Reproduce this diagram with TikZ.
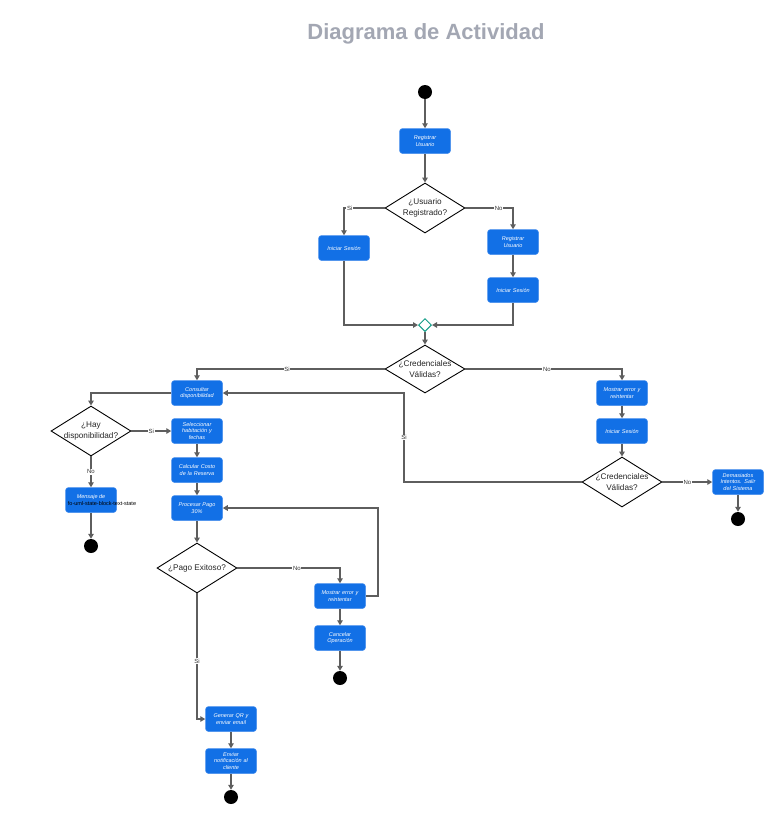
\documentclass[tikz,border=0pt]{standalone}
\usepackage{fontspec}
\setmainfont{Liberation Sans}
\usetikzlibrary{shapes.geometric,arrows.meta,calc}
\definecolor{boxblue}{HTML}{1270E6}
\definecolor{boxedge}{HTML}{4A90EE}
\definecolor{linegray}{HTML}{5E5E5E}
\definecolor{titlegray}{HTML}{A3A7B3}
\definecolor{mergegreen}{HTML}{119C86}
\tikzset{
  act/.style={rectangle, rounded corners=3pt, fill=boxblue, draw=boxedge, line width=0.5pt,
    minimum width=51pt, minimum height=25pt, text width=48pt, align=center,
    font=\fontsize{5.5}{6.6}\selectfont\itshape, text=white, inner sep=1pt},
  dec/.style={diamond, draw=black, line width=0.9pt, fill=white, minimum width=80pt,
    minimum height=50pt, inner sep=0pt},
  dtext/.style={align=center, font=\fontsize{8.2}{11}\selectfont, text=black!85},
  startdot/.style={circle, fill=black, minimum size=14pt, inner sep=0pt},
  mergenode/.style={diamond, draw=mergegreen, line width=1pt, fill=white, minimum width=13pt,
    minimum height=13pt, inner sep=0pt},
  flow/.style={draw=linegray, line width=1.3pt, -{Triangle[length=5pt,width=5.5pt]}},
  lbl/.style={font=\fontsize{6}{6.5}\selectfont, fill=white, inner sep=0.6pt, text=black!80}
}
\begin{document}
\begin{tikzpicture}[x=1pt,y=-1pt]
\useasboundingbox (0,0) rectangle (775,817);
\node[font=\fontsize{22}{25}\selectfont\bfseries, text=titlegray] (title) at (426,34) {Diagrama de Actividad};

% nodes
\node[startdot] (s0) at (425,92) {};
\node[act] (reg1) at (425,141) {Registrar\\Usuario};
\node[dec] (d1) at (425,208) {};
\node[dtext] (d1t) at (425,208) {¿Usuario\\Registrado?};
\node[act] (ini1) at (344,248) {Iniciar Sesión};
\node[act] (reg2) at (513,242) {Registrar\\Usuario};
\node[act] (ini2) at (513,290) {Iniciar Sesión};
\node[mergenode] (m) at (425,325) {};
\node[dec, minimum height=48pt] (d2) at (425,369) {};
\node[dtext] (d2t) at (425,369) {¿Credenciales\\Válidas?};
\node[act] (cons) at (197,393) {Consultar\\disponibilidad};
\node[act] (mos1) at (622,393) {Mostrar error y\\reintentar};
\node[act] (ini3) at (622,431) {Iniciar Sesión};
\node[dec] (d3) at (622,482) {};
\node[dtext] (d3t) at (622,482) {¿Credenciales\\Válidas?};
\node[act] (dem) at (738,482) {Demasiados\\Intentos. Salir\\del Sistema};
\node[startdot] (e3) at (738,519) {};
\node[dec] (d4) at (91,431) {};
\node[dtext] (d4t) at (91,431) {¿Hay\\disponibilidad?};
\node[act] (sel) at (197,431) {Seleccionar\\habitación y\\fechas};
\node[act] (calc) at (197,470) {Calcular Costo\\de la Reserva};
\node[act] (proc) at (197,508) {Procesar Pago\\30\%};
\node[act] (men) at (91,500) {};
\node[font=\fontsize{5.5}{6}\selectfont\itshape, text=white] (ment) at (91,497) {Mensaje de};
\node[font=\fontsize{5.5}{6}\selectfont, text=black] (menb) at (102,504) {fo-uml-state-block-text-state};
\node[startdot] (e4) at (91,546) {};
\node[dec] (d5) at (197,568) {};
\node[dtext] (d5t) at (197,568) {¿Pago Exitoso?};
\node[act] (mos2) at (340,596) {Mostrar error y\\reintentar};
\node[act] (canc) at (340,638) {Cancelar\\Operación};
\node[startdot] (e5) at (340,678) {};
\node[act] (gen) at (231,719) {Generar QR  y\\enviar email};
\node[act] (env) at (231,761) {Enviar\\notificación al\\cliente};
\node[startdot] (e6) at (231,797) {};
\coordinate (c1) at (404,482);
\coordinate (c2) at (378,596);

% connectors
\draw[flow] (s0) -- (reg1);
\draw[flow] (reg1) -- (d1);
\draw[flow] (d1.west) -| node[lbl, pos=0.43] {Si} (ini1);
\draw[flow] (d1.east) -| node[lbl, pos=0.35] {No} (reg2);
\draw[flow] (reg2) -- (ini2);
\draw[flow] (ini1) |- (m);
\draw[flow] (ini2) |- (m);
\draw[flow] (m) -- (d2);
\draw[flow] (d2.west) -| node[lbl, pos=0.26] {Si} (cons);
\draw[flow] (d2.east) -| node[lbl, pos=0.26] {No} (mos1);
\draw[flow] (mos1) -- (ini3);
\draw[flow] (ini3) -- (d3);
\draw[flow] (d3.west) -- (c1) |- node[lbl, pos=0.25] {Si} (cons.east);
\draw[flow] (d3.east) -- node[lbl, pos=0.5] {No} (dem);
\draw[flow] (dem) -- (e3);
\draw[flow] (cons.west) -| (d4.north);
\draw[flow] (d4.east) -- node[lbl, pos=0.5] {Si} (sel);
\draw[flow] (d4.south) -- node[lbl, pos=0.5] {No} (men);
\draw[flow] (men) -- (e4);
\draw[flow] (sel) -- (calc);
\draw[flow] (calc) -- (proc);
\draw[flow] (proc) -- (d5);
\draw[flow] (d5.east) -| node[lbl, pos=0.29] {No} (mos2);
\draw[flow] (mos2.east) -- (c2) |- (proc.east);
\draw[flow] (mos2) -- (canc);
\draw[flow] (canc) -- (e5);
\draw[flow] (d5.south) |- node[lbl, pos=0.27] {Si} (gen);
\draw[flow] (gen) -- (env);
\draw[flow] (env) -- (e6);
\end{tikzpicture}
\end{document}
